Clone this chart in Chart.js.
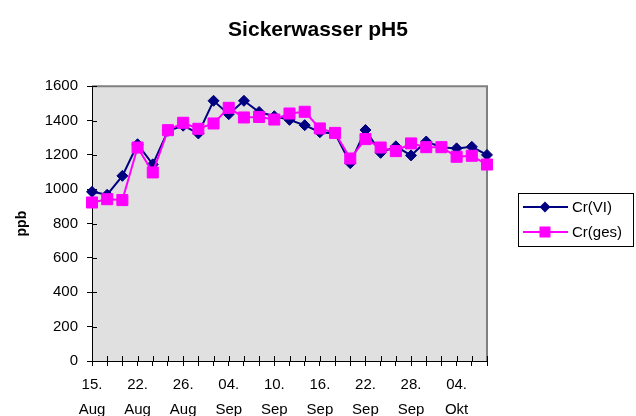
<!DOCTYPE html>
<html>
<head>
<meta charset="utf-8">
<title>Sickerwasser pH5</title>
<script src="https://cdn.jsdelivr.net/npm/chart.js@4/dist/chart.umd.min.js"></script>
<style>
html, body { margin: 0; padding: 0; background: #fff; }
</style>
</head>
<body>
<canvas id="myChart" width="636" height="416"></canvas>
<script>
// Probenahmen (nur jede dritte ist beschriftet)
const categories = [
  '15. Aug', '', '', '22. Aug', '', '', '26. Aug', '', '', '04. Sep', '', '', '10. Sep', '', '',
  '16. Sep', '', '', '22. Sep', '', '', '28. Sep', '', '', '04. Okt', '', ''
];
// Cr(VI) in ppb
const crVI = [985, 968, 1078, 1262, 1145, 1340, 1370, 1325, 1515, 1437, 1515, 1450, 1425, 1404,
  1373, 1332, 1325, 1152, 1345, 1212, 1250, 1197, 1278, 1245, 1238, 1247, 1200];
// Cr(ges) in ppb
const crGes = [923, 942, 937, 1243, 1098, 1344, 1387, 1352, 1383, 1474, 1418, 1421, 1406, 1441,
  1451, 1354, 1328, 1179, 1292, 1243, 1222, 1267, 1245, 1245, 1189, 1195, 1144];
const yTicks = [0, 200, 400, 600, 800, 1000, 1200, 1400, 1600];

Chart.defaults.font.family = '"Liberation Sans", Arial, sans-serif';
Chart.defaults.color = '#000';

// grauer Hintergrund, Rahmen oben/rechts und Teilstriche nach innen
const plotFrame = {
  id: 'plotFrame',
  afterLayout(chart) {
    // Titel über die ganze Breite zentrieren, nicht nur über den Plotbereich
    const t = chart.titleBlock;
    if (t) {
      t.left = 0;
      t.right = chart.width;
      t.width = chart.width;
    }
  },
  beforeDraw(chart) {
    const {ctx, chartArea: a} = chart;
    ctx.save();
    ctx.fillStyle = '#E0E0E0';
    ctx.fillRect(a.left, a.top, a.right - a.left, a.bottom - a.top);
    ctx.restore();
  },
  beforeDatasetsDraw(chart) {
    const {ctx, chartArea: a, scales} = chart;
    ctx.save();
    ctx.strokeStyle = '#808080';
    ctx.lineWidth = 2;
    ctx.beginPath();
    ctx.moveTo(a.left, a.top);
    ctx.lineTo(a.right, a.top);
    ctx.lineTo(a.right, a.bottom);
    ctx.stroke();

    ctx.strokeStyle = '#000';
    ctx.lineWidth = 1;
    ctx.beginPath();
    scales.x.ticks.forEach((t, i) => {
      const px = Math.round(scales.x.getPixelForTick(i)) + 0.5;
      ctx.moveTo(px, a.bottom);
      ctx.lineTo(px, a.bottom - 5);
    });
    scales.y.ticks.forEach((t, i) => {
      const py = Math.round(scales.y.getPixelForTick(i)) + 0.5;
      ctx.moveTo(a.left, py);
      ctx.lineTo(a.left + 5, py);
    });
    ctx.stroke();
    ctx.restore();
  }
};

// Legende mit Linie + Marker im Kasten
const boxLegend = {
  id: 'boxLegend',
  afterDraw(chart) {
    const {ctx} = chart;
    const rows = [207, 232];
    ctx.save();
    ctx.strokeStyle = '#000';
    ctx.lineWidth = 1;
    ctx.strokeRect(518.5, 193.5, 115, 53);
    chart.data.datasets.forEach((ds, i) => {
      const y = rows[i];
      ctx.strokeStyle = ds.borderColor;
      ctx.lineWidth = 2;
      ctx.beginPath();
      ctx.moveTo(523, y);
      ctx.lineTo(568, y);
      ctx.stroke();
      ctx.fillStyle = ds.backgroundColor;
      ctx.beginPath();
      if (ds.pointStyle === 'rectRot') {
        const r = ds.pointRadius;
        ctx.moveTo(545 - r, y);
        ctx.lineTo(545, y - r);
        ctx.lineTo(545 + r, y);
        ctx.lineTo(545, y + r);
        ctx.closePath();
      } else {
        const h = ds.pointRadius * Math.SQRT1_2;
        ctx.rect(545 - h, y - h, 2 * h, 2 * h);
      }
      ctx.fill();
      ctx.fillStyle = '#000';
      ctx.font = '15px "Liberation Sans", Arial, sans-serif';
      ctx.textBaseline = 'middle';
      ctx.fillText(ds.label, 572, y + 1);
    });
    ctx.restore();
  }
};

const ctx = document.getElementById('myChart').getContext('2d');
new Chart(ctx, {
  type: 'line',
  data: {
    labels: categories,
    datasets: [
      {
        label: 'Cr(VI)',
        data: crVI,
        borderColor: '#000080',
        backgroundColor: '#000080',
        borderWidth: 2,
        pointStyle: 'rectRot',
        pointRadius: 5.5,
        pointBorderWidth: 1,
        tension: 0,
        order: 1
      },
      {
        label: 'Cr(ges)',
        data: crGes,
        borderColor: '#FF00FF',
        backgroundColor: '#FF00FF',
        borderWidth: 2,
        pointStyle: 'rect',
        pointRadius: 7.8,
        pointBorderWidth: 1,
        tension: 0,
        order: 0
      }
    ]
  },
  plugins: [plotFrame, boxLegend],
  options: {
    responsive: false,
    animation: false,
    layout: { padding: { left: 0, right: 149, top: 0, bottom: 0 } },
    plugins: {
      legend: { display: false },
      tooltip: { enabled: false },
      title: {
        display: true,
        text: 'Sickerwasser pH5',
        font: { size: 21, weight: 'bold' },
        color: '#000',
        padding: { top: 18, bottom: 43 }
      }
    },
    scales: {
      x: {
        type: 'category',
        offset: false,
        afterFit(s) { s.height = 55; },
        grid: { drawOnChartArea: false, drawTicks: true, tickLength: 5, color: '#000' },
        border: { color: '#000', width: 1 },
        ticks: {
          autoSkip: false,
          maxRotation: 0,
          padding: 6,
          font: { size: 15, lineHeight: 1.67 },
          color: '#000',
          callback(v, i) {
            const lab = categories[i];
            return lab ? lab.split(' ') : '';
          }
        }
      },
      y: {
        min: 0,
        max: 1600,
        afterFit(s) { s.width = 92; },
        afterBuildTicks(s) { s.ticks = yTicks.map(v => ({ value: v })); },
        grid: { drawOnChartArea: false, drawTicks: true, tickLength: 5, color: '#000' },
        border: { color: '#000', width: 1 },
        title: {
          display: true,
          text: 'ppb',
          font: { size: 14, weight: 'bold' },
          color: '#000',
          padding: { top: 14, bottom: 0 }
        },
        ticks: {
          padding: 9,
          font: { size: 15 },
          color: '#000',
          callback(v) { return String(v); }
        }
      }
    }
  }
});
</script>
</body>
</html>
